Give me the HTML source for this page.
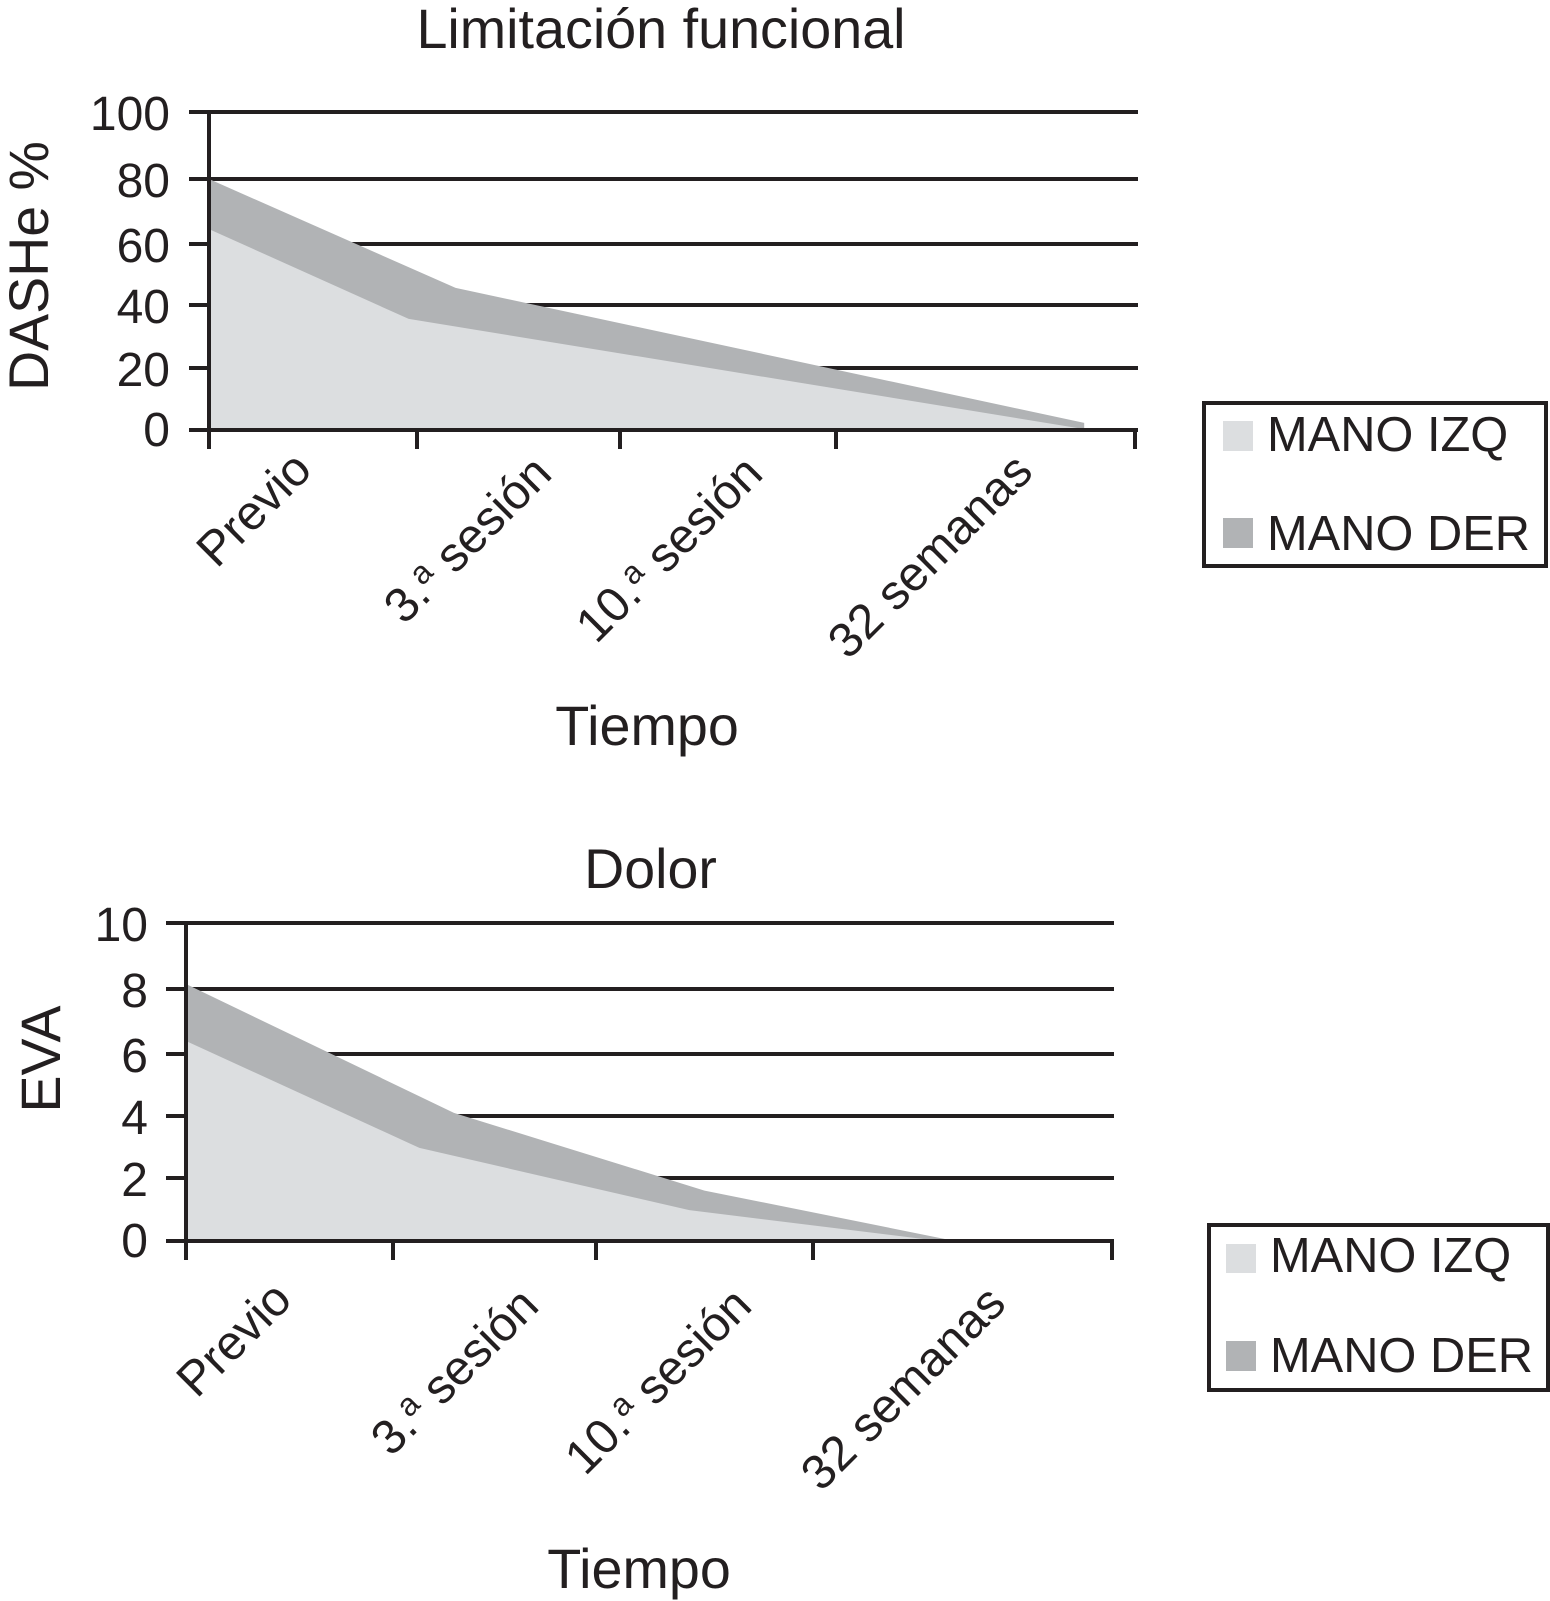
<!DOCTYPE html>
<html lang="es">
<head>
<meta charset="utf-8">
<title>Limitación funcional y Dolor</title>
<style>
html,body{margin:0;padding:0;background:#fff;}
svg{display:block;}
text{font-family:"Liberation Sans",Arial,sans-serif;fill:#231f20;white-space:pre;}
</style>
</head>
<body>
<svg id="figure" xmlns="http://www.w3.org/2000/svg" width="1550" height="1601" viewBox="0 0 1550 1601">
  <rect width="1550" height="1601" fill="#fff"/>
  <text x="661" y="48" font-size="55.7" text-anchor="middle">Limitación funcional</text>
  <text transform="translate(48,266) rotate(-90)" font-size="55.5" text-anchor="middle">DASHe %</text>
  <text x="647" y="745" font-size="55.7" text-anchor="middle">Tiempo</text>
  <text x="650.5" y="888" font-size="55.5" text-anchor="middle">Dolor</text>
  <text transform="translate(60,1059) rotate(-90)" font-size="55.5" text-anchor="middle">EVA</text>
  <text x="639" y="1588" font-size="55.7" text-anchor="middle">Tiempo</text>
  <g id="chart-top"></g>
  <g id="chart-bottom"></g>

  <g>
    <rect x="1204" y="403" width="342" height="163" fill="#fff" stroke="#231f20" stroke-width="4"/>
    <rect x="1223" y="421" width="30" height="30" fill="#dcdee0"/>
    <text x="1267" y="451" font-size="48.8">MANO IZQ</text>
    <rect x="1223" y="518" width="30" height="30" fill="#b1b3b5"/>
    <text x="1267" y="550" font-size="48.8">MANO DER</text>
  </g>
  <g>
    <rect x="1209" y="1225" width="339" height="165" fill="#fff" stroke="#231f20" stroke-width="4"/>
    <rect x="1226" y="1244" width="30" height="29" fill="#dcdee0"/>
    <text x="1270" y="1272" font-size="48.8">MANO IZQ</text>
    <rect x="1226" y="1341" width="30" height="30" fill="#b1b3b5"/>
    <text x="1270" y="1372" font-size="48.8">MANO DER</text>
  </g>
</svg>
<script>
// Category labels (shared)
const labelMain = ['Previo', '3.', '10.', '32 semanas'];
const labelSup = ['', 'a', 'a', ''];
const labelRest = ['', ' sesión', ' sesión', ''];

// Top chart: DASHe %
const dasheTicks = [0, 20, 40, 60, 80, 100];
const dasheIzqTime = [0, 0.96, 3.81];
const dasheIzqValues = [64.6, 35.6, 0.6];
const dasheDerTime = [0, 1.19, 3.83];
const dasheDerValues = [80, 45.6, 2.3];

// Bottom chart: EVA
const evaTicks = [0, 2, 4, 6, 8, 10];
const evaIzqTime = [0, 1.13, 2.43, 3.4];
const evaIzqValues = [6.4, 2.97, 0.98, 0.03];
const evaDerTime = [0, 1.3, 2.5, 3.46];
const evaDerValues = [8.15, 4.1, 1.6, 0.03];

const SVGNS = 'http://www.w3.org/2000/svg';
const INK = '#231f20';

function mk(parent, tag, attrs) {
  const el = document.createElementNS(SVGNS, tag);
  for (const k in attrs) el.setAttribute(k, attrs[k]);
  parent.appendChild(el);
  return el;
}

// Axis function: the printed axes have slightly uneven spacing, so map through calibration stops.
function stopScale(domain, range) {
  return function (v) {
    let i = 0;
    while (i < domain.length - 2 && v > domain[i + 1]) i++;
    const t = (v - domain[i]) / (domain[i + 1] - domain[i]);
    return range[i] + t * (range[i + 1] - range[i]);
  };
}

function areaPath(times, values, x, y) {
  let d = 'M' + x(times[0]) + ' ' + y(0);
  times.forEach(function (t, i) { d += 'L' + x(t).toFixed(1) + ' ' + y(values[i]).toFixed(1); });
  d += 'L' + x(times[times.length - 1]).toFixed(1) + ' ' + y(0) + 'Z';
  return d;
}

function drawChart(g, cfg) {
  const x = stopScale([0, 1, 2, 3, 4], cfg.xStops);
  const y = stopScale(cfg.ticks, cfg.yStops);
  const x0 = x(0), y0 = y(0), yTop = y(cfg.ticks[cfg.ticks.length - 1]);

  cfg.ticks.slice(1).forEach(function (t) {
    const line = mk(g, 'line', { x1: x0 - 20, x2: cfg.gridEnd, y1: y(t), y2: y(t), stroke: INK, 'stroke-width': 4 });
    
    
  });

  const der = mk(g, 'path', { d: areaPath(cfg.derTime, cfg.derValues, x, y), fill: '#b1b3b5' });
  
  

  const izq = mk(g, 'path', { d: areaPath(cfg.izqTime, cfg.izqValues, x, y), fill: '#dcdee0' });
  
  

  const axisY = mk(g, 'line', { x1: x0, x2: x0, y1: yTop - 2, y2: y0 + 19, stroke: INK, 'stroke-width': 4 });
  
  

  const axisX = mk(g, 'line', { x1: x0 - 20, x2: cfg.gridEnd, y1: y0, y2: y0, stroke: INK, 'stroke-width': 4 });
  
  

  [1, 2, 3, 4].forEach(function (i) {
    const tick = mk(g, 'line', { x1: x(i), x2: x(i), y1: y0, y2: y0 + 19, stroke: INK, 'stroke-width': 4 });
    
    
  });

  cfg.ticks.forEach(function (t) {
    const label = mk(g, 'text', { x: cfg.yLabelRight, y: y(t) + (t === 0 ? 16 : 18), 'font-size': 48, 'text-anchor': 'end' });
    label.textContent = t;
    
    
  });

  labelMain.forEach(function (main, i) {
    const ax = cfg.labelEndX[i], ay = cfg.labelEndY[i];
    const label = mk(g, 'text', { transform: 'translate(' + ax + ',' + ay + ') rotate(-45)', 'font-size': 48.5, 'text-anchor': 'end' });
    
    
    const a = mk(label, 'tspan', {});
    a.textContent = main;
    if (labelSup[i]) {
      const b = mk(label, 'tspan', { 'font-size': 32, dy: -15 });
      b.textContent = labelSup[i];
      const c = mk(label, 'tspan', { dy: 15 });
      c.textContent = labelRest[i];
    }
  });
}

drawChart(document.getElementById('chart-top'), {
  ticks: dasheTicks,
  yStops: [430, 368, 305, 244, 179, 112],
  xStops: [209, 417, 620, 836, 1135],
  gridEnd: 1138,
  yLabelRight: 170,
  labelEndX: [314, 554, 765, 1035],
  labelEndY: [472, 476, 476, 474],
  izqTime: dasheIzqTime, izqValues: dasheIzqValues,
  derTime: dasheDerTime, derValues: dasheDerValues
});

drawChart(document.getElementById('chart-bottom'), {
  ticks: evaTicks,
  yStops: [1241, 1178, 1116, 1054, 989, 923],
  xStops: [186, 393, 596, 813, 1112],
  gridEnd: 1114,
  yLabelRight: 148,
  labelEndX: [294, 541, 754, 1008],
  labelEndY: [1302, 1308, 1308, 1306],
  izqTime: evaIzqTime, izqValues: evaIzqValues,
  derTime: evaDerTime, derValues: evaDerValues
});
</script>
</body>
</html>
